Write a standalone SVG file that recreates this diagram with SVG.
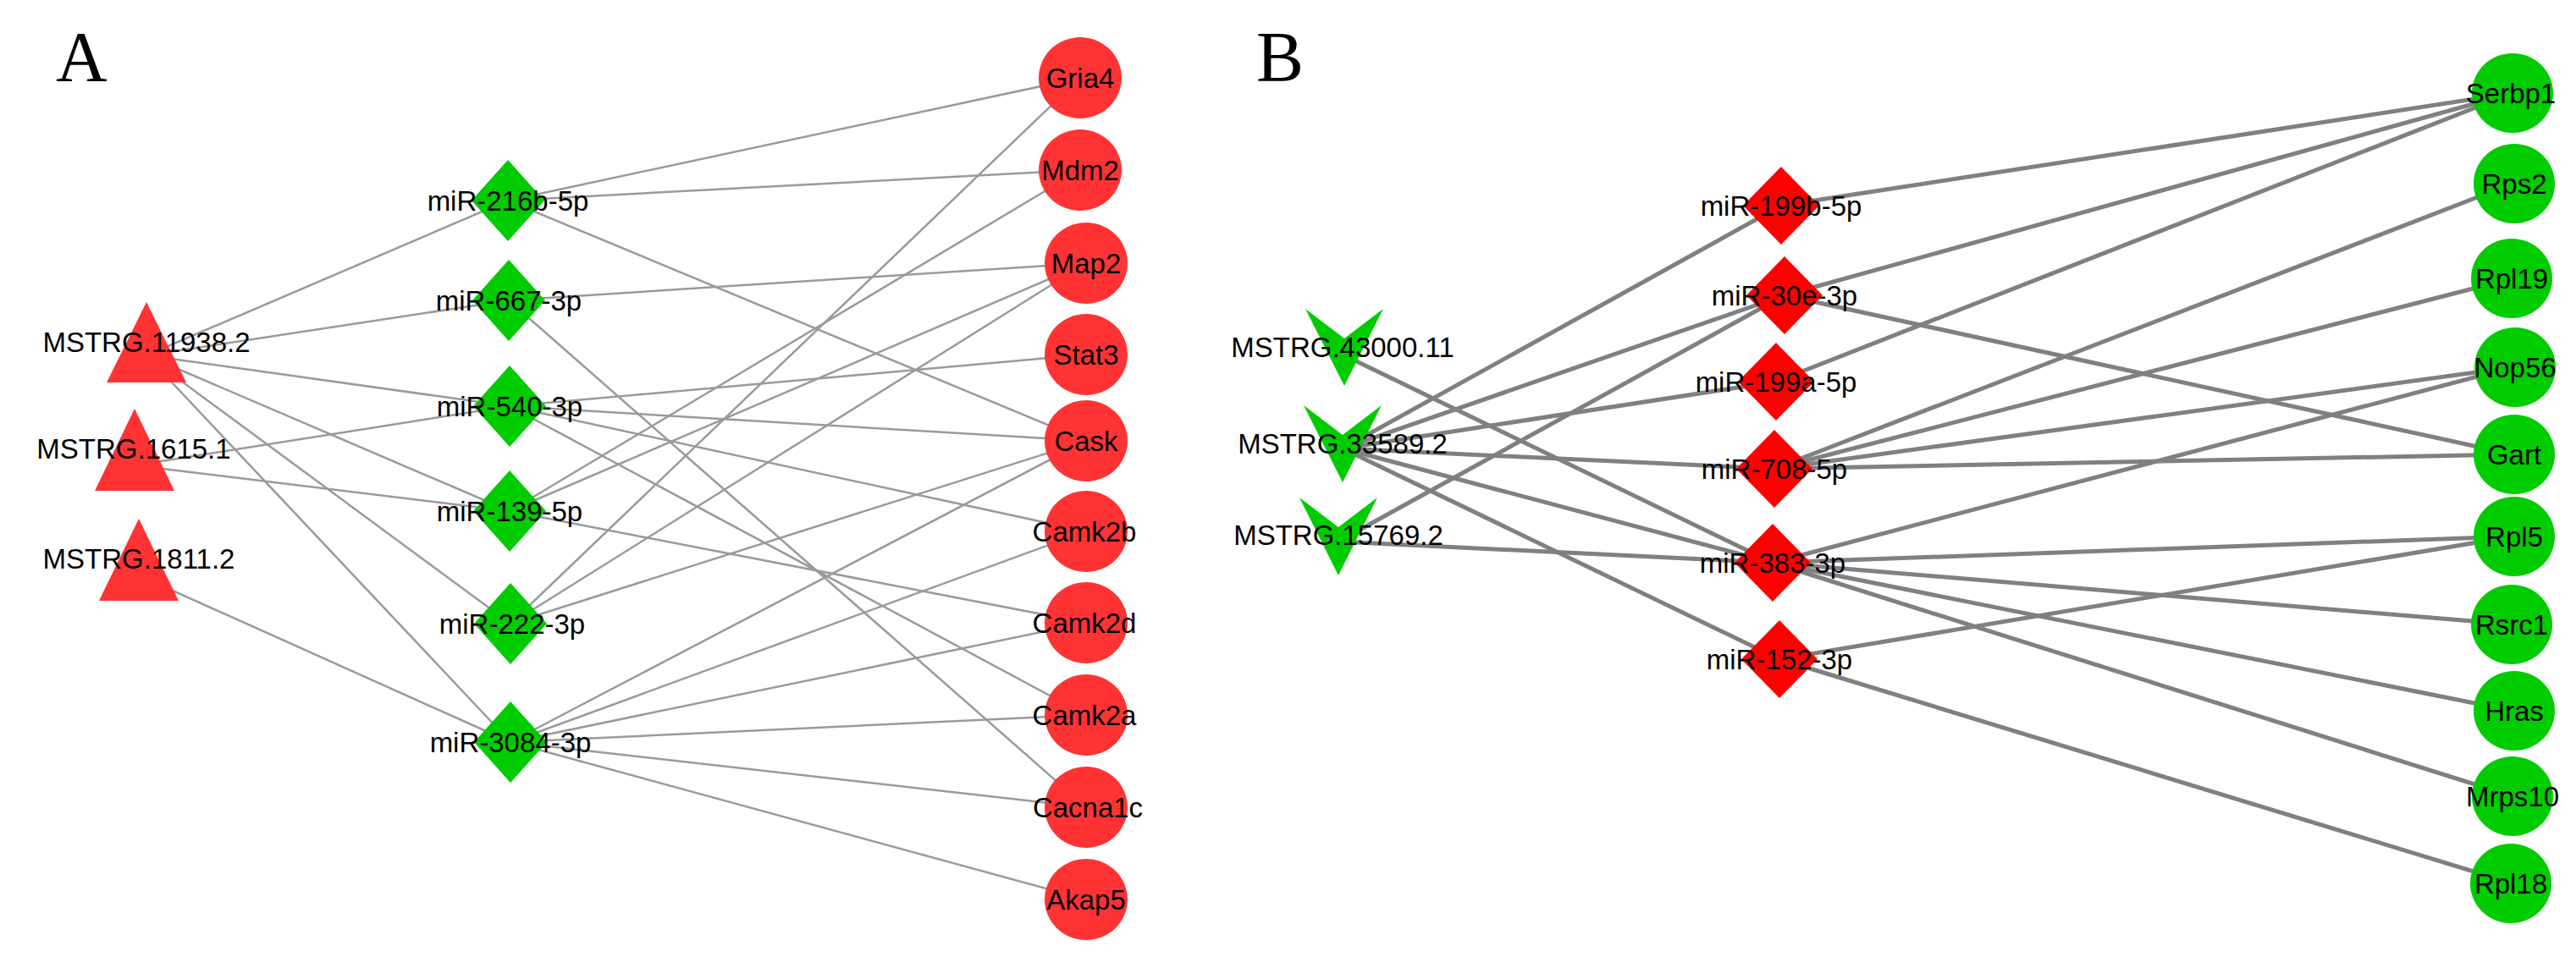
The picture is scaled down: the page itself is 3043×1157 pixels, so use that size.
<svg xmlns="http://www.w3.org/2000/svg" width="3043" height="1157" viewBox="0 0 3043 1157">
<style>
text{font-family:"Liberation Sans",Arial,sans-serif;font-size:33px;fill:#000;text-anchor:middle}
.big{font-family:"Liberation Serif","Times New Roman",serif;font-size:84px;text-anchor:start}
.ea line{stroke:#9a9a9a;stroke-width:2.5}
.eb line{stroke:#808080;stroke-width:5}
.ra{fill:#FF3333}
.rb{fill:#FF0000}
.g{fill:#00CC00}
</style>
<rect width="3043" height="1157" fill="#fff"/>
<text class="big" x="66" y="96">A</text>
<text class="big" x="1484" y="96">B</text>
<g id="edges-A" class="ea">
<line x1="173" y1="420" x2="600" y2="237"/>
<line x1="173" y1="420" x2="601" y2="355"/>
<line x1="173" y1="420" x2="602" y2="480"/>
<line x1="173" y1="420" x2="602" y2="604"/>
<line x1="173" y1="420" x2="603" y2="737"/>
<line x1="173" y1="420" x2="603" y2="877"/>
<line x1="159" y1="550" x2="602" y2="480"/>
<line x1="159" y1="550" x2="602" y2="604"/>
<line x1="164" y1="680" x2="603" y2="877"/>
<line x1="600" y1="237" x2="1276" y2="92"/>
<line x1="600" y1="237" x2="1276" y2="201"/>
<line x1="600" y1="237" x2="1283" y2="521"/>
<line x1="601" y1="355" x2="1283" y2="311"/>
<line x1="601" y1="355" x2="1283" y2="954"/>
<line x1="602" y1="480" x2="1283" y2="419"/>
<line x1="602" y1="480" x2="1283" y2="521"/>
<line x1="602" y1="480" x2="1283" y2="628"/>
<line x1="602" y1="480" x2="1283" y2="845"/>
<line x1="602" y1="604" x2="1276" y2="201"/>
<line x1="602" y1="604" x2="1283" y2="311"/>
<line x1="602" y1="604" x2="1283" y2="736"/>
<line x1="603" y1="737" x2="1276" y2="92"/>
<line x1="603" y1="737" x2="1283" y2="311"/>
<line x1="603" y1="737" x2="1283" y2="521"/>
<line x1="603" y1="877" x2="1283" y2="521"/>
<line x1="603" y1="877" x2="1283" y2="628"/>
<line x1="603" y1="877" x2="1283" y2="736"/>
<line x1="603" y1="877" x2="1283" y2="845"/>
<line x1="603" y1="877" x2="1283" y2="954"/>
<line x1="603" y1="877" x2="1283" y2="1063"/>
</g>
<g id="edges-B" class="eb">
<line x1="1588" y1="420" x2="2094" y2="665"/>
<line x1="1586" y1="530" x2="2104" y2="243"/>
<line x1="1586" y1="530" x2="2108" y2="349"/>
<line x1="1586" y1="530" x2="2098" y2="451"/>
<line x1="1586" y1="530" x2="2096" y2="554"/>
<line x1="1586" y1="530" x2="2094" y2="665"/>
<line x1="1586" y1="530" x2="2102" y2="779"/>
<line x1="1581" y1="640" x2="2108" y2="349"/>
<line x1="1581" y1="640" x2="2094" y2="665"/>
<line x1="2104" y1="243" x2="2968" y2="110"/>
<line x1="2108" y1="349" x2="2968" y2="110"/>
<line x1="2108" y1="349" x2="2968" y2="537"/>
<line x1="2098" y1="451" x2="2968" y2="110"/>
<line x1="2096" y1="554" x2="2968" y2="217"/>
<line x1="2096" y1="554" x2="2968" y2="329"/>
<line x1="2096" y1="554" x2="2968" y2="434"/>
<line x1="2096" y1="554" x2="2968" y2="537"/>
<line x1="2094" y1="665" x2="2968" y2="434"/>
<line x1="2094" y1="665" x2="2968" y2="634"/>
<line x1="2094" y1="665" x2="2968" y2="738"/>
<line x1="2094" y1="665" x2="2968" y2="840"/>
<line x1="2094" y1="665" x2="2968" y2="941"/>
<line x1="2102" y1="779" x2="2968" y2="634"/>
<line x1="2102" y1="779" x2="2968" y2="1044"/>
</g>
<g id="MSTRG.11938.2"><polygon class="ra" points="173,357 220,452 126,452"/><text x="173" y="416">MSTRG.11938.2</text></g>
<g id="MSTRG.1615.1"><polygon class="ra" points="159,483 206,580 112,580"/><text x="158" y="542">MSTRG.1615.1</text></g>
<g id="MSTRG.1811.2"><polygon class="ra" points="164,613 211,710 117,710"/><text x="164" y="672">MSTRG.1811.2</text></g>
<g id="miR-216b-5p"><polygon class="g" points="600,189 643,237 600,285 557,237"/><text x="600" y="249">miR-216b-5p</text></g>
<g id="miR-667-3p"><polygon class="g" points="601,307 644,355 601,403 558,355"/><text x="601" y="367">miR-667-3p</text></g>
<g id="miR-540-3p"><polygon class="g" points="602,432 645,480 602,528 559,480"/><text x="602" y="492">miR-540-3p</text></g>
<g id="miR-139-5p"><polygon class="g" points="602,556 645,604 602,652 559,604"/><text x="602" y="616">miR-139-5p</text></g>
<g id="miR-222-3p"><polygon class="g" points="603,689 646,737 603,785 560,737"/><text x="605" y="749">miR-222-3p</text></g>
<g id="miR-3084-3p"><polygon class="g" points="603,829 646,877 603,925 560,877"/><text x="603" y="889">miR-3084-3p</text></g>
<g id="Gria4"><ellipse class="ra" cx="1276" cy="92" rx="49" ry="48"/><text x="1276" y="104">Gria4</text></g>
<g id="Mdm2"><ellipse class="ra" cx="1276" cy="201" rx="49" ry="48"/><text x="1276" y="213">Mdm2</text></g>
<g id="Map2"><ellipse class="ra" cx="1283" cy="311" rx="49" ry="48"/><text x="1283" y="323">Map2</text></g>
<g id="Stat3"><ellipse class="ra" cx="1283" cy="419" rx="49" ry="48"/><text x="1283" y="431">Stat3</text></g>
<g id="Cask"><ellipse class="ra" cx="1283" cy="521" rx="49" ry="48"/><text x="1283" y="533">Cask</text></g>
<g id="Camk2b"><ellipse class="ra" cx="1283" cy="628" rx="49" ry="48"/><text x="1281" y="640">Camk2b</text></g>
<g id="Camk2d"><ellipse class="ra" cx="1283" cy="736" rx="49" ry="48"/><text x="1281" y="748">Camk2d</text></g>
<g id="Camk2a"><ellipse class="ra" cx="1283" cy="845" rx="49" ry="48"/><text x="1281" y="857">Camk2a</text></g>
<g id="Cacna1c"><ellipse class="ra" cx="1283" cy="954" rx="49" ry="48"/><text x="1285" y="966">Cacna1c</text></g>
<g id="Akap5"><ellipse class="ra" cx="1283" cy="1063" rx="49" ry="48"/><text x="1283" y="1075">Akap5</text></g>
<g id="MSTRG.43000.11"><polygon class="g" points="1542,365 1588,400 1634,365 1588,456"/><text x="1586" y="422">MSTRG.43000.11</text></g>
<g id="MSTRG.33589.2"><polygon class="g" points="1540,479 1586,514 1632,479 1586,570"/><text x="1586" y="536">MSTRG.33589.2</text></g>
<g id="MSTRG.15769.2"><polygon class="g" points="1535,588 1581,623 1627,588 1581,680"/><text x="1581" y="644">MSTRG.15769.2</text></g>
<g id="miR-199b-5p"><polygon class="rb" points="2104,197 2149,243 2104,289 2059,243"/><text x="2104" y="255">miR-199b-5p</text></g>
<g id="miR-30e-3p"><polygon class="rb" points="2108,303 2153,349 2108,395 2063,349"/><text x="2108" y="361">miR-30e-3p</text></g>
<g id="miR-199a-5p"><polygon class="rb" points="2098,405 2143,451 2098,497 2053,451"/><text x="2098" y="463">miR-199a-5p</text></g>
<g id="miR-708-5p"><polygon class="rb" points="2096,508 2141,554 2096,600 2051,554"/><text x="2096" y="566">miR-708-5p</text></g>
<g id="miR-383-3p"><polygon class="rb" points="2094,619 2139,665 2094,711 2049,665"/><text x="2094" y="677">miR-383-3p</text></g>
<g id="miR-152-3p"><polygon class="rb" points="2102,733 2147,779 2102,825 2057,779"/><text x="2102" y="791">miR-152-3p</text></g>
<g id="Serbp1"><ellipse class="g" cx="2968" cy="110" rx="48" ry="47"/><text x="2966" y="122">Serbp1</text></g>
<g id="Rps2"><ellipse class="g" cx="2970" cy="217" rx="48" ry="47"/><text x="2970" y="229">Rps2</text></g>
<g id="Rpl19"><ellipse class="g" cx="2967" cy="329" rx="48" ry="47"/><text x="2967" y="341">Rpl19</text></g>
<g id="Nop56"><ellipse class="g" cx="2971" cy="434" rx="48" ry="47"/><text x="2971" y="446">Nop56</text></g>
<g id="Gart"><ellipse class="g" cx="2970" cy="537" rx="48" ry="47"/><text x="2970" y="549">Gart</text></g>
<g id="Rpl5"><ellipse class="g" cx="2970" cy="634" rx="48" ry="47"/><text x="2970" y="646">Rpl5</text></g>
<g id="Rsrc1"><ellipse class="g" cx="2967" cy="738" rx="48" ry="47"/><text x="2967" y="750">Rsrc1</text></g>
<g id="Hras"><ellipse class="g" cx="2970" cy="840" rx="48" ry="47"/><text x="2970" y="852">Hras</text></g>
<g id="Mrps10"><ellipse class="g" cx="2968" cy="941" rx="48" ry="47"/><text x="2968" y="953">Mrps10</text></g>
<g id="Rpl18"><ellipse class="g" cx="2966" cy="1044" rx="48" ry="47"/><text x="2966" y="1056">Rpl18</text></g>
</svg>
